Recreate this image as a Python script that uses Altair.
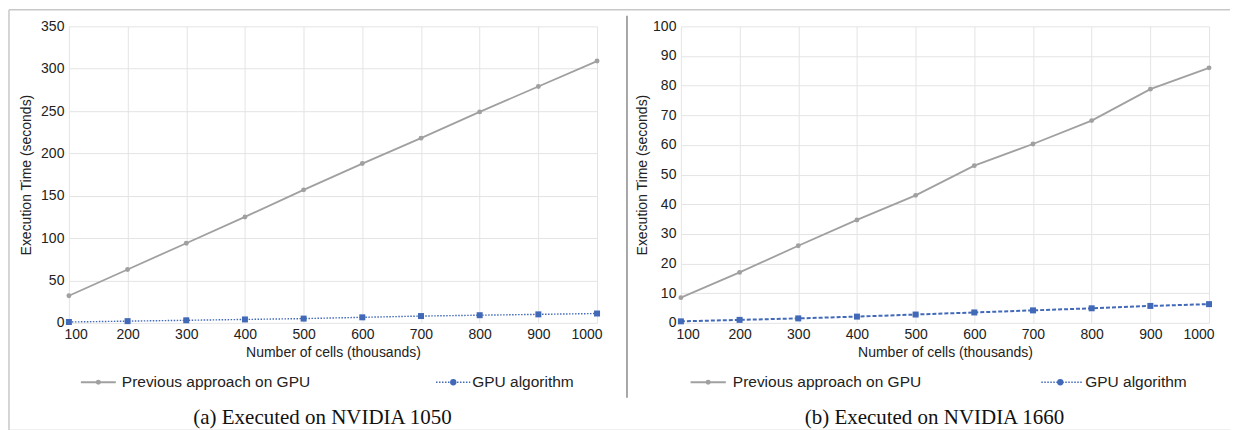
import altair as alt
import pandas as pd

cells = [100, 200, 300, 400, 500, 600, 700, 800, 900, 1000]
prev_1050 = [32, 63, 94, 125, 157, 188, 218, 249, 279, 309]
gpu_1050 = [1, 2, 3, 4, 5, 6.5, 8, 9, 10, 11]
prev_1660 = [8.5, 17, 26, 34.7, 43, 53, 60.3, 68.2, 78.8, 86]
gpu_1660 = [0.5, 1.0, 1.5, 2.1, 2.8, 3.5, 4.2, 4.9, 5.7, 6.3]

series_names = ["Previous approach on GPU", "GPU algorithm"]
captions = ["(a) Executed on NVIDIA 1050", "(b) Executed on NVIDIA 1660"]
x_title = "Number of cells (thousands)"
y_title = "Execution Time (seconds)"

GRAY = "#a0a0a0"
BLUE = "#4169b8"
FONT = "Liberation Sans"
W, H = 529, 297
one = pd.DataFrame({"a": [0]})


def panel(prev, gpu, ymax, ystep, gpu_dash, gpu_width, caption, tpad, leg, extra=None):
    df = pd.DataFrame({"cells": cells, "prev": prev, "gpu": gpu})
    xax = alt.Axis(values=cells, title=x_title, labelPadding=5, titlePadding=4,
                   grid=True, format="d", labelFlush=True, labelFlushOffset=5,
                   labelOverlap=False)
    xsc = alt.Scale(domain=[100, 1000], nice=False, zero=False)
    yax = alt.Axis(values=list(range(0, ymax + 1, ystep)), title=y_title, format="d",
                   labelPadding=5, titlePadding=tpad, grid=True, labelOverlap=False)
    ysc = alt.Scale(domain=[0, ymax], nice=False)

    def X():
        return alt.X("cells:Q", scale=xsc, axis=xax)

    def Y(f):
        return alt.Y(f + ":Q", scale=ysc, axis=yax)

    base = alt.Chart(df)
    prev_line = base.mark_line(color=GRAY, strokeWidth=1.8).encode(x=X(), y=Y("prev"))
    prev_pts = base.mark_point(filled=True, shape="circle", size=24, color=GRAY, opacity=1).encode(
        x=X(), y=Y("prev"))
    gpu_line = base.mark_line(color=BLUE, strokeWidth=gpu_width, strokeDash=gpu_dash).encode(
        x=X(), y=Y("gpu"))
    gpu_pts = base.mark_point(filled=True, shape="square", size=36, color=BLUE, opacity=1).encode(
        x=X(), y=Y("gpu"))

    d = alt.Chart(one)
    ly = 356.5
    legend = [
        d.mark_rule(color=GRAY, strokeWidth=1.8).encode(x=alt.value(leg[0]), x2=alt.value(leg[1]), y=alt.value(ly)),
        d.mark_point(filled=True, shape="circle", size=25, color=GRAY, opacity=1).encode(
            x=alt.value((leg[0] + leg[1]) / 2), y=alt.value(ly)),
        d.mark_text(align="left", baseline="middle", font=FONT, fontSize=15.5, color="#222").encode(
            x=alt.value(leg[2]), y=alt.value(ly), text=alt.value(series_names[0])),
        d.mark_rule(color=BLUE, strokeWidth=1.3, strokeDash=[1.5, 1.5]).encode(
            x=alt.value(leg[3]), x2=alt.value(leg[4]), y=alt.value(ly)),
        d.mark_point(filled=True, shape="circle", size=40, color=BLUE, opacity=1).encode(
            x=alt.value(leg[5]), y=alt.value(ly)),
        d.mark_text(align="left", baseline="middle", font=FONT, fontSize=15.5, color="#222").encode(
            x=alt.value(leg[6]), y=alt.value(ly), text=alt.value(series_names[1])),
        d.mark_text(align="center", baseline="alphabetic", font="Liberation Serif", fontSize=21,
                    color="#111").encode(x=alt.value(254), y=alt.value(398), text=alt.value(caption)),
    ]
    layers = [prev_line, prev_pts, gpu_line, gpu_pts] + legend + (extra or [])
    return alt.layer(*layers).properties(width=W, height=H)


d = alt.Chart(one)
frame = [
    d.mark_rule(color="#c8c8c8", strokeWidth=1.5).encode(x=alt.value(-60), x2=alt.value(1163), y=alt.value(-16.5)),
    d.mark_rule(color="#c8c8c8", strokeWidth=1.5).encode(x=alt.value(-60), y=alt.value(-16.5), y2=alt.value(404.5)),
    d.mark_rule(color="#d8d8d8", strokeWidth=1).encode(x=alt.value(-60), x2=alt.value(1163), y=alt.value(404.5)),
    d.mark_rule(color="#8a8a8a", strokeWidth=1.5).encode(x=alt.value(559), y=alt.value(-10.5), y2=alt.value(372)),
]

left = panel(prev_1050, gpu_1050, 350, 50, [1.5, 1.5], 1.4, captions[0], 7,
             [12, 47, 53, 367.7, 402, 385, 404], extra=frame)
right = panel(prev_1660, gpu_1660, 100, 10, [4, 2], 2, captions[1], 3,
              [9.7, 45, 52, 361, 402, 380, 405])

chart = alt.hconcat(left, right, spacing=84, bounds="flush").properties(
    padding=0, background="white"
).configure_view(strokeWidth=0).configure_axis(
    domain=False, ticks=False, tickSize=0, gridColor="#e4e4e4", gridWidth=1,
    labelFont=FONT, labelFontSize=14, labelColor="#222",
    titleFont=FONT, titleFontSize=14, titleFontWeight="normal", titleColor="#222",
)

chart.save("out.html", embed_options={"renderer": "svg", "actions": False})
